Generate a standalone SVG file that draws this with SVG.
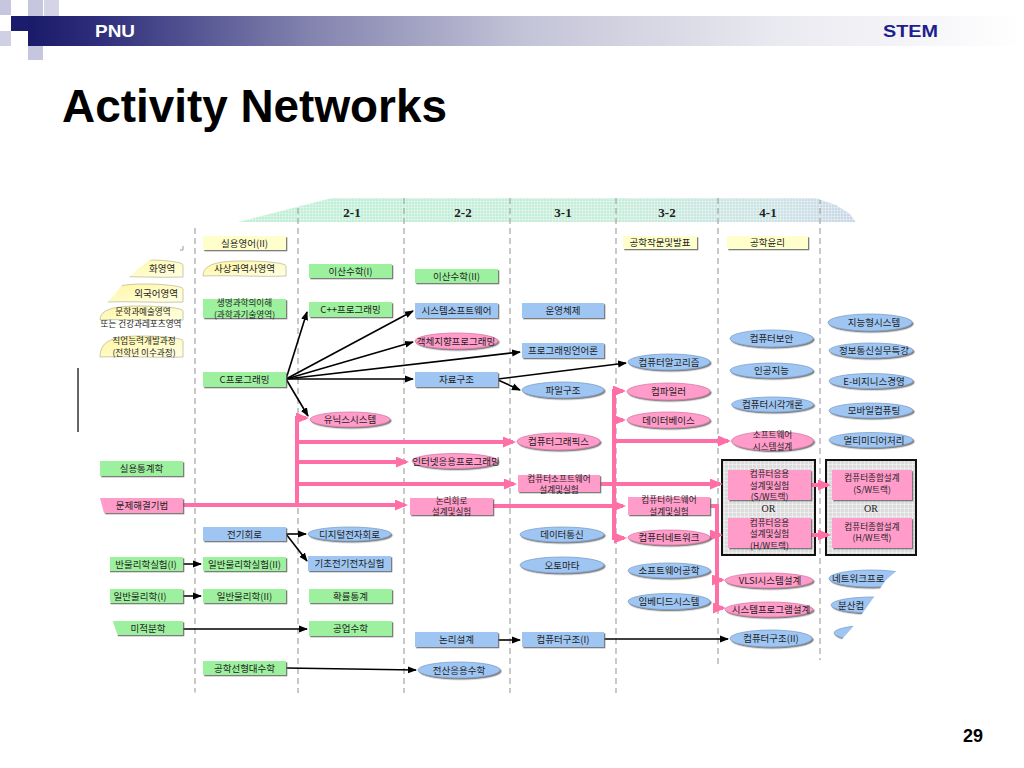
<svg xmlns="http://www.w3.org/2000/svg" width="1024" height="768" viewBox="0 0 1024 768">
<defs>
<style>
.ko{font-family:'Noto Sans CJK KR','Noto Sans',sans-serif;font-size:9.5px;fill:#1e1e1e;text-anchor:middle}
.k2{font-size:8.6px}
.st{text-anchor:start}
.en{text-anchor:end}
.sf{font-family:'Liberation Serif',serif;font-size:10px;fill:#222;text-anchor:middle}
.col{font-family:'Liberation Serif',serif;font-weight:bold;font-size:13px;fill:#222;text-anchor:middle}
.gb{fill:#9DF09D;filter:url(#sh)}
.bb{fill:#9FC6F2;filter:url(#sh)}
.pb{fill:#FF9CC9;filter:url(#sh)}
.yb{fill:#FFFFCC;filter:url(#sh)}
.be{fill:#9FC6F2;stroke:#7FA0CC;stroke-width:0.8;filter:url(#sh)}
.pe{fill:#FF9CC9;stroke:#D77AA6;stroke-width:0.8;filter:url(#sh)}
.yr{fill:url(#yg);stroke:#BDBD9A;stroke-width:0.8}
.gr{fill:#DCDCDC;stroke:#111;stroke-width:2}
.blk{stroke:#000;stroke-width:1.6;fill:none;marker-end:url(#ab)}
.pk{stroke:#FF6FA6;stroke-width:4;fill:none;stroke-linejoin:miter}
.pka{marker-end:url(#ap)}
.dash{stroke:#A4A4A4;stroke-width:1.2;stroke-dasharray:6 4}
</style>
<filter id="sh" x="-10%" y="-30%" width="130%" height="170%">
<feDropShadow dx="1.3" dy="1.3" stdDeviation="0.3" flood-color="#666" flood-opacity="0.85"/>
</filter>
<linearGradient id="hdr" gradientUnits="userSpaceOnUse" x1="28" y1="0" x2="1024" y2="0">
<stop offset="0" stop-color="#1A1A6A"/>
<stop offset="0.07" stop-color="#2E2E7C"/>
<stop offset="0.28" stop-color="#8282AE"/>
<stop offset="0.5" stop-color="#C4C4D8"/>
<stop offset="0.75" stop-color="#E9E9F0"/>
<stop offset="1" stop-color="#FFFFFF"/>
</linearGradient>
<linearGradient id="bandg" gradientUnits="userSpaceOnUse" x1="238" y1="0" x2="860" y2="0">
<stop offset="0" stop-color="#BFEFD6"/>
<stop offset="0.6" stop-color="#C6EDDB"/>
<stop offset="0.88" stop-color="#CDE2E6"/>
<stop offset="1" stop-color="#C8D5E6"/>
</linearGradient>
<linearGradient id="yg" x1="0" y1="0" x2="1" y2="1">
<stop offset="0" stop-color="#FFF6A0"/>
<stop offset="1" stop-color="#FFFFE6"/>
</linearGradient>
<pattern id="grid" width="3" height="3" patternUnits="userSpaceOnUse">
<path d="M0,0.5 H3 M0.5,0 V3" stroke="#FFFFFF" stroke-opacity="0.55" stroke-width="0.6" fill="none"/>
</pattern>
<pattern id="ggrid" width="4" height="4" patternUnits="userSpaceOnUse">
<path d="M0,0.5 H4 M0.5,0 V4" stroke="#F2F2F2" stroke-width="0.7" fill="none"/>
</pattern>
<marker id="ab" markerUnits="userSpaceOnUse" markerWidth="9" markerHeight="8" refX="8" refY="4" orient="auto">
<path d="M0,0.5 L9,4 L0,7.5 z" fill="#000"/>
</marker>
<marker id="ap" markerUnits="userSpaceOnUse" markerWidth="13" markerHeight="11" refX="10" refY="5.5" orient="auto">
<path d="M0,0 L13,5.5 L0,11 z" fill="#FF6FA6"/>
</marker>
<clipPath id="view">
<polygon points="186,226 238,222 332,198 815,198 836,205 850,214 857,224 880,260 905,290 918,305 918,556 900,568 886,580 874,597 862,614 852,628 836,646 822,660 720,665 640,693 196,693 150,668 120,642 113,622 110,600 110,556 102,530 99,515 99,458 85,448 77,440 77,362 82,338 88,324 100,311 106,304 116,293 126,280 139,268 150,260 177,251 182,240"/>
</clipPath>
</defs>

<rect x="0" y="0" width="1024" height="768" fill="#FFFFFF"/>

<g id="slide-header">
<rect x="28" y="16" width="996" height="30" fill="url(#hdr)"/>
<rect x="0" y="0" width="11" height="15" fill="#C6C6DE"/>
<rect x="28" y="0" width="15" height="16" fill="#C6C6DE"/>
<rect x="44" y="0" width="15" height="16" fill="#D4D4E6"/>
<rect x="11" y="16" width="17" height="15" fill="#1C1C6C"/>
<rect x="0" y="31" width="11" height="15" fill="#D0D0E4"/>
<rect x="28" y="46" width="15" height="14" fill="#C6C6DE"/>
<text x="95" y="37" font-family="'Liberation Sans',sans-serif" font-weight="bold" font-size="17" fill="#FFFFFF" textLength="40" lengthAdjust="spacingAndGlyphs">PNU</text>
<text x="883" y="37" font-family="'Liberation Sans',sans-serif" font-weight="bold" font-size="17" fill="#1E1E8C" textLength="55" lengthAdjust="spacingAndGlyphs">STEM</text>
</g>

<text id="title" x="62" y="122" font-family="'Liberation Sans',sans-serif" font-weight="bold" font-size="46" fill="#000" textLength="385" lengthAdjust="spacingAndGlyphs">Activity Networks</text>
<text id="page" x="973" y="742" font-family="'Liberation Sans',sans-serif" font-weight="bold" font-size="18" fill="#000" text-anchor="middle">29</text>

<rect x="77" y="368" width="2" height="64" fill="#666"/>
<path d="M180,250 H183 V246" stroke="#999" stroke-width="1" fill="none"/>

<g id="diagram" clip-path="url(#view)">
<g id="band">
<rect x="180" y="196" width="740" height="26" fill="url(#bandg)"/>
<rect x="180" y="196" width="740" height="26" fill="url(#grid)"/>
<text class="col" x="352" y="217">2-1</text>
<text class="col" x="463" y="217">2-2</text>
<text class="col" x="563" y="217">3-1</text>
<text class="col" x="667" y="217">3-2</text>
<text class="col" x="768" y="217">4-1</text>
</g>
<g id="columns">
<line class="dash" x1="195" y1="198" x2="195" y2="693"/>
<line class="dash" x1="298" y1="198" x2="298" y2="693"/>
<line class="dash" x1="404" y1="198" x2="404" y2="693"/>
<line class="dash" x1="510" y1="198" x2="510" y2="693"/>
<line class="dash" x1="616" y1="198" x2="616" y2="693"/>
<line class="dash" x1="718" y1="198" x2="718" y2="693"/>
<line class="dash" x1="820" y1="198" x2="820" y2="693"/>
</g>

<g id="grey-boxes">
<rect class="gr" x="722" y="460" width="93" height="95"/>
<rect x="723" y="461" width="91" height="93" fill="url(#ggrid)"/>
<rect class="gr" x="826" y="460" width="90" height="95"/>
<rect x="827" y="461" width="88" height="93" fill="url(#ggrid)"/>
<text class="sf" x="768.5" y="512">OR</text>
<text class="sf" x="871" y="512">OR</text>
</g>

<g id="connectors">
<path class="blk" d="M286,379 L307,312"/>
<path class="blk" d="M286,379 L413,311"/>
<path class="blk" d="M286,379 L413,342"/>
<path class="blk" d="M286,379 L520,352"/>
<path class="blk" d="M286,379 L413,379"/>
<path class="blk" d="M286,379 L308,416"/>
<path class="blk" d="M498,379 L626,363"/>
<path class="blk" d="M498,380 L520,390"/>
<path class="blk" d="M286,534 L306,534"/>
<path class="blk" d="M286,534 L307,561"/>
<path class="blk" d="M183,564 L201,564"/>
<path class="blk" d="M183,596 L201,596"/>
<path class="blk" d="M183,629 L307,629"/>
<path class="blk" d="M286,668 L416,670"/>
<path class="blk" d="M498,640 L520,640"/>
<path class="blk" d="M603,639 L728,639"/>
<path class="pk pka" d="M183,505 L405,505"/>
<path class="pk pka" d="M297,505 L297,418 L306,418"/>
<path class="pk pka" d="M297,442 L513,442"/>
<path class="pk pka" d="M297,462 L406,462"/>
<path class="pk pka" d="M297,484 L514,484"/>
<path class="pk pka" d="M600,484 L720,484"/>
<path class="pk pka" d="M614,484 L614,391 L623,391"/>
<path class="pk pka" d="M614,484 L614,538 L624,538"/>
<path class="pk pka" d="M614,420 L623,420"/>
<path class="pk pka" d="M614,441 L728,441"/>
<path class="pk pka" d="M493,506 L623,506"/>
<path class="pk pka" d="M710,506 L717,506 L717,608 L723,608"/>
<path class="pk pka" d="M717,535 L720,535"/>
<path class="pk pka" d="M717,580 L722,580"/>
<path class="pk pka" d="M811,485 L828,485"/>
<path class="pk pka" d="M811,535 L828,535"/>
</g>

<g id="n-munhwa"><path class="yr" d="M110,277 C110,263 125,260 150,260 C163,260 183,262 183,265 L183,277 C158,278 135,276 110,277 Z"/><text class="ko st" x="149" y="272">화영역</text></g>
<g id="n-oeguk"><path class="yr" d="M105,302 C105,287 120,284 145,284 C163,284 183,286 183,289 L183,302 C158,303 130,301 105,302 Z"/><text class="ko en" x="178" y="297">외국어영역</text></g>
<g id="n-munhak"><path class="yr" d="M100,320 C100,309 115,306 140,306 C163,306 183,308 183,311 L183,320 C158,321 125,319 100,320 Z"/><text class="ko k2"><tspan x="143" y="315">문학과예술영역</tspan><tspan x="141" y="326.5">또는 건강과레포츠영역</tspan></text></g>
<g id="n-jigeop"><path class="yr" d="M100,357 C100,340 115,336 140,336 C163,336 183,338 183,341 L183,357 C158,358 125,356 100,357 Z"/><text class="ko k2"><tspan x="144" y="344">직업능력개발과정</tspan><tspan x="144" y="355.5">(전학년 이수과정)</tspan></text></g>
<g id="n-tonggye"><rect class="gb" x="100" y="461" width="83" height="15"/><text class="ko" x="141.5" y="472">실용통계학</text></g>
<g id="n-munje"><polygon class="pb" points="100,498 183,498 183,513 104,513"/><text class="ko" x="142" y="509">문제해결기법</text></g>
<g id="n-mulsil1"><rect class="gb" x="100" y="557" width="83" height="14"/><text class="ko" x="146" y="568">반물리학실험(I)</text></g>
<g id="n-mul1"><rect class="gb" x="100" y="589" width="83" height="14"/><text class="ko" x="140" y="600">일반물리학(I)</text></g>
<g id="n-mijeok"><rect class="gb" x="100" y="621" width="83" height="14"/><text class="ko" x="148" y="632">미적분학</text></g>

<g id="n-eng2"><rect class="yb" x="203" y="236" width="83" height="14"/><text class="ko" x="244.5" y="246.5">실용영어(II)</text></g>
<g id="n-sasang"><path class="yr" d="M203,276 C203,264 218,261 243,261 C266,261 286,263 286,266 L286,276 C261,277 228,275 203,276 Z"/><text class="ko" x="244.5" y="272">사상과역사영역</text></g>
<g id="n-saengmyeong"><rect class="gb" x="203" y="299" width="83" height="19"/><text class="ko k2"><tspan x="244.5" y="306">생명과학의이해</tspan><tspan x="244.5" y="317.5">(과학과기술영역)</tspan></text></g>
<g id="n-cprog"><rect class="gb" x="203" y="372" width="83" height="15"/><text class="ko" x="244.5" y="383">C프로그래밍</text></g>
<g id="n-jeongi"><rect class="bb" x="203" y="527" width="83" height="14"/><text class="ko" x="244.5" y="538">전기회로</text></g>
<g id="n-mulsil2"><rect class="gb" x="203" y="557" width="83" height="14"/><text class="ko" x="244.5" y="568">일반물리학실험(II)</text></g>
<g id="n-mul2"><rect class="gb" x="203" y="589" width="83" height="14"/><text class="ko" x="244.5" y="600">일반물리학(II)</text></g>
<g id="n-seonhyeong"><rect class="gb" x="203" y="661" width="83" height="14"/><text class="ko" x="244.5" y="672">공학선형대수학</text></g>

<g id="n-isan1"><rect class="gb" x="309" y="264" width="83" height="14"/><text class="ko" x="350.5" y="275">이산수학(I)</text></g>
<g id="n-cpp"><rect class="gb" x="309" y="302" width="83" height="15"/><text class="ko" x="350.5" y="313">C++프로그래밍</text></g>
<g id="n-unix"><ellipse class="pe" cx="350" cy="419.5" rx="40" ry="7.5"/><text class="ko" x="350" y="423">유닉스시스템</text></g>
<g id="n-digital"><ellipse class="be" cx="349.5" cy="534" rx="41.5" ry="7"/><text class="ko" x="349.5" y="537.5">디지털전자회로</text></g>
<g id="n-gicho"><rect class="bb" x="308" y="556" width="83" height="15"/><text class="ko" x="349.5" y="567">기초전기전자실험</text></g>
<g id="n-hwakryul"><rect class="gb" x="309" y="589" width="83" height="14"/><text class="ko" x="350.5" y="600">확률통계</text></g>
<g id="n-gongeop"><rect class="gb" x="309" y="621" width="83" height="15"/><text class="ko" x="350.5" y="632">공업수학</text></g>

<g id="n-isan2"><rect class="gb" x="415" y="269" width="83" height="14"/><text class="ko" x="456.5" y="280">이산수학(II)</text></g>
<g id="n-syssw"><rect class="bb" x="415" y="303" width="83" height="15"/><text class="ko" x="456.5" y="314">시스템소프트웨어</text></g>
<g id="n-oop"><ellipse class="pe" cx="456.5" cy="341" rx="41.5" ry="8"/><text class="ko" x="456" y="344.5">객체지향프로그래밍</text></g>
<g id="n-jaryo"><rect class="bb" x="415" y="372" width="83" height="15"/><text class="ko" x="456.5" y="383">자료구조</text></g>
<g id="n-internet"><ellipse class="pe" cx="455" cy="461" rx="43" ry="7.5"/><text class="ko" x="456" y="464.5">인터넷응용프로그래밍</text></g>
<g id="n-nonrihoero"><rect class="pb" x="410" y="498" width="83" height="17"/><text class="ko k2"><tspan x="451.5" y="503.5">논리회로</tspan><tspan x="451.5" y="515">설계및실험</tspan></text></g>
<g id="n-nonriseolgye"><rect class="bb" x="415" y="632" width="83" height="15"/><text class="ko" x="456.5" y="643">논리설계</text></g>
<g id="n-jeonsan"><ellipse class="be" cx="459" cy="670" rx="41" ry="8"/><text class="ko" x="459" y="673.5">전산응용수학</text></g>

<g id="n-os"><rect class="bb" x="522" y="303" width="82" height="15"/><text class="ko" x="563" y="314">운영체제</text></g>
<g id="n-pl"><rect class="bb" x="522" y="343" width="82" height="15"/><text class="ko" x="563" y="354">프로그래밍언어론</text></g>
<g id="n-file"><ellipse class="be" cx="563" cy="390" rx="41" ry="8"/><text class="ko" x="563" y="393.5">파일구조</text></g>
<g id="n-graphics"><ellipse class="pe" cx="558.5" cy="441.5" rx="41.5" ry="8.5"/><text class="ko" x="558.5" y="445">컴퓨터그래픽스</text></g>
<g id="n-swlab"><rect class="pb" x="518" y="475" width="82" height="17"/><text class="ko k2"><tspan x="559" y="481.5">컴퓨터소프트웨어</tspan><tspan x="559" y="493">설계및실험</tspan></text></g>
<g id="n-datacomm"><ellipse class="be" cx="562" cy="534.5" rx="42" ry="7.5"/><text class="ko" x="562" y="538">데이터통신</text></g>
<g id="n-automata"><ellipse class="be" cx="562" cy="565" rx="42" ry="8"/><text class="ko" x="562" y="568.5">오토마타</text></g>
<g id="n-arch1"><rect class="bb" x="522" y="632" width="82" height="15"/><text class="ko" x="563" y="643">컴퓨터구조(I)</text></g>

<g id="n-jakmun"><rect class="yb" x="623" y="236" width="74" height="13"/><text class="ko" x="660" y="246">공학작문및발표</text></g>
<g id="n-algo"><ellipse class="be" cx="669" cy="362" rx="41" ry="8"/><text class="ko" x="669" y="365.5">컴퓨터알고리즘</text></g>
<g id="n-compiler"><ellipse class="pe" cx="668.5" cy="391.5" rx="41.5" ry="8.5"/><text class="ko" x="668.5" y="395">컴파일러</text></g>
<g id="n-db"><ellipse class="pe" cx="668.5" cy="420" rx="41.5" ry="8"/><text class="ko" x="668.5" y="423.5">데이터베이스</text></g>
<g id="n-hwlab"><rect class="pb" x="628" y="497" width="82" height="18"/><text class="ko k2"><tspan x="669" y="503">컴퓨터하드웨어</tspan><tspan x="669" y="514.5">설계및실험</tspan></text></g>
<g id="n-network"><ellipse class="pe" cx="669" cy="537.5" rx="41" ry="7.5"/><text class="ko" x="669" y="541">컴퓨터네트워크</text></g>
<g id="n-sweng"><ellipse class="be" cx="669" cy="570.5" rx="41" ry="7.5"/><text class="ko" x="669" y="574">소프트웨어공학</text></g>
<g id="n-embedded"><ellipse class="be" cx="669" cy="601.5" rx="41" ry="8"/><text class="ko" x="669" y="605">임베디드시스템</text></g>

<g id="n-ethics"><rect class="yb" x="727" y="236" width="81" height="13"/><text class="ko" x="767.5" y="246">공학윤리</text></g>
<g id="n-security"><ellipse class="be" cx="771.5" cy="338.5" rx="41.5" ry="8.5"/><text class="ko" x="771.5" y="342">컴퓨터보안</text></g>
<g id="n-ai"><ellipse class="be" cx="771.5" cy="370.5" rx="41.5" ry="7.5"/><text class="ko" x="771.5" y="374">인공지능</text></g>
<g id="n-vision"><ellipse class="be" cx="772.5" cy="404.5" rx="41" ry="7.5"/><text class="ko" x="772.5" y="408">컴퓨터시각개론</text></g>
<g id="n-swsys"><ellipse class="pe" cx="772.5" cy="441" rx="41" ry="9.5"/><text class="ko k2"><tspan x="772.5" y="438">소프트웨어</tspan><tspan x="772.5" y="449.5">시스템설계</tspan></text></g>
<g id="n-app-sw"><rect class="pb" x="728" y="470" width="83" height="30"/><text class="ko k2"><tspan x="769.5" y="477">컴퓨터응용</tspan><tspan x="769.5" y="488.5">설계및실험</tspan><tspan x="769.5" y="500">(S/W트랙)</tspan></text></g>
<g id="n-app-hw"><rect class="pb" x="728" y="518" width="83" height="30"/><text class="ko k2"><tspan x="769.5" y="525.5">컴퓨터응용</tspan><tspan x="769.5" y="537">설계및실험</tspan><tspan x="769.5" y="548.5">(H/W트랙)</tspan></text></g>
<g id="n-vlsi"><ellipse class="pe" cx="769" cy="580.5" rx="44" ry="7.5"/><text class="ko" x="770" y="584">VLSI시스템설계</text></g>
<g id="n-sysprog"><ellipse class="pe" cx="769" cy="609.5" rx="44" ry="7.5"/><text class="ko" x="771" y="613">시스템프로그램설계</text></g>
<g id="n-arch2"><ellipse class="be" cx="771" cy="638.5" rx="41" ry="8.5"/><text class="ko" x="771" y="642">컴퓨터구조(II)</text></g>

<g id="n-intelligent"><ellipse class="be" cx="870" cy="322.5" rx="42" ry="8.5"/><text class="ko" x="874" y="326">지능형시스템</text></g>
<g id="n-infocomm"><ellipse class="be" cx="871" cy="350.5" rx="42" ry="7.5"/><text class="ko" x="874" y="354">정보통신실무특강</text></g>
<g id="n-ebiz"><ellipse class="be" cx="871" cy="381" rx="42" ry="7.5"/><text class="ko" x="874" y="384.5">E-비지니스경영</text></g>
<g id="n-mobile"><ellipse class="be" cx="871" cy="410.5" rx="42" ry="7.5"/><text class="ko" x="874" y="414">모바일컴퓨팅</text></g>
<g id="n-multimedia"><ellipse class="be" cx="871" cy="440" rx="42" ry="7.5"/><text class="ko" x="874" y="443.5">멀티미디어처리</text></g>
<g id="n-total-sw"><rect class="pb" x="832" y="470" width="80" height="30"/><text class="ko k2"><tspan x="872" y="481">컴퓨터종합설계</tspan><tspan x="872" y="492.5">(S/W트랙)</tspan></text></g>
<g id="n-total-hw"><rect class="pb" x="832" y="518" width="80" height="30"/><text class="ko k2"><tspan x="872" y="529.5">컴퓨터종합설계</tspan><tspan x="872" y="541">(H/W트랙)</tspan></text></g>
<g id="n-netproto"><ellipse class="be" cx="871" cy="578.5" rx="42" ry="8.5"/><text class="ko st" x="832" y="582">네트워크프로</text></g>
<g id="n-distributed"><ellipse class="be" cx="873" cy="605" rx="42" ry="8"/><text class="ko st" x="838" y="608.5">분산컴</text></g>
<g id="n-frag"><ellipse class="be" cx="876" cy="633" rx="42" ry="8"/></g>
</g>
</svg>
